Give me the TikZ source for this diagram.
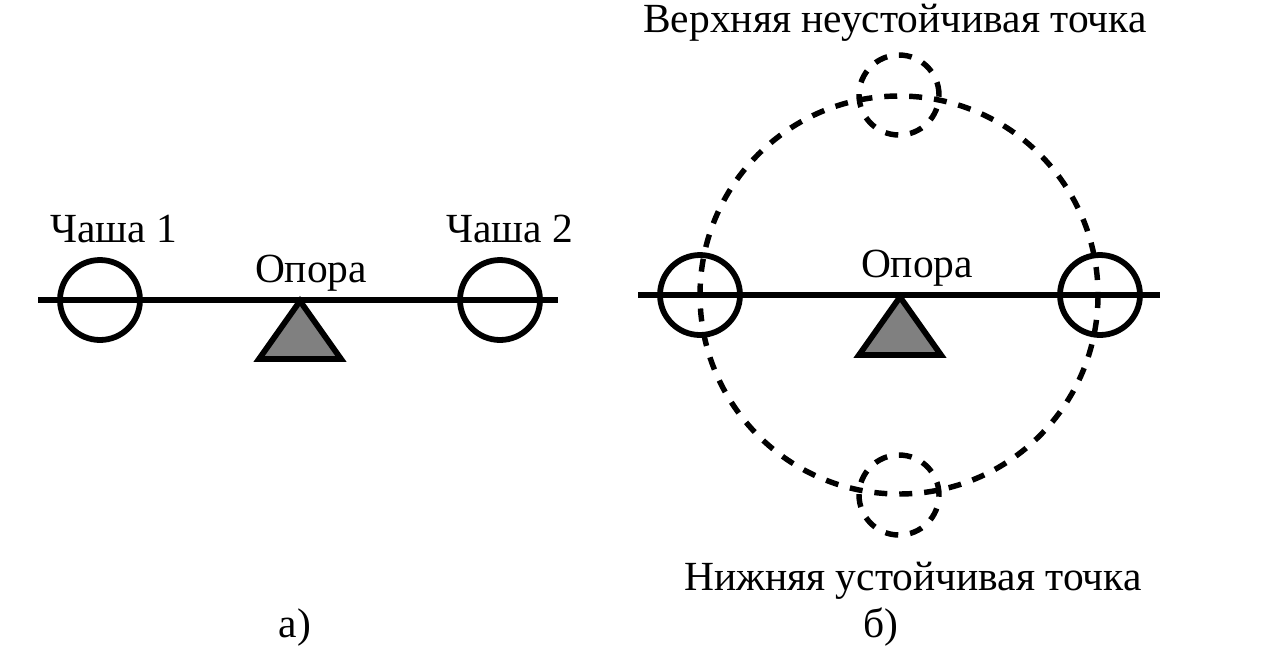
\documentclass[tikz,border=0pt]{standalone}
\usepackage{fontspec}
\setmainfont{Liberation Serif}
\usepackage{tikz}
\usetikzlibrary{calc}
\tikzset{%
  mybeam/.style={line width=3.3pt},
  mypan/.style={circle, draw=black, line width=3.3pt, minimum size=1.6cm, inner sep=0pt},
  myghost/.style={circle, draw=black, line width=3.1pt, dash pattern=on 7.4pt off 6.8pt, minimum size=1.6cm, inner sep=0pt},
  mypath/.style={line width=3.1pt, dash pattern=on 7.4pt off 6.8pt},
  myprop/.style={draw=black, fill=gray, line width=3.3pt, line join=miter},
  mytext/.style={font=\fontsize{23.6}{28}\selectfont, anchor=base, inner sep=0pt}
}

\begin{document}
\begin{tikzpicture}[x=0.02cm, y=-0.02cm]
  \useasboundingbox (0,0) rectangle (1264,650);
  % a)
  \coordinate (la) at (38,300);
  \coordinate (ra) at (558,300);
  \coordinate (pa) at (300,301);
  \node[mypan] (p1) at (100,300) {};
  \node[mypan] (p2) at (500,300) {};
  \draw [myprop] (pa) -- ++(-41,58) -- ++(82,0) -- cycle;
  \draw [mybeam] (la) -- (ra);
  \node[mytext] (t1) at (114,242) {Чаша 1};
  \node[mytext] (t2) at (510,242) {Чаша 2};
  \node[mytext] (o1) at (311,282) {Опора};
  \node[mytext] (ca) at (295,637) {а)};
  % b)
  \coordinate (lb) at (638,295);
  \coordinate (rb) at (1160,295);
  \coordinate (pb) at (900,297);
  \coordinate (cb) at (899,295);
  \node[mypan] (p3) at (700,295) {};
  \node[mypan] (p4) at (1100,295) {};
  \node[myghost] (g1) at (899,95) {};
  \node[myghost] (g2) at (899,495) {};
  \draw [mypath] (cb) circle[radius=199];
  \draw [myprop] (pb) -- ++(-41,58) -- ++(82,0) -- cycle;
  \draw [mybeam] (lb) -- (rb);
  \node[mytext] (o2) at (917,277) {Опора};
  \node[mytext] (tu) at (895,32) {Верхняя неустойчивая точка};
  \node[mytext] (td) at (913,590) {Нижняя устойчивая точка};
  \node[mytext] (cbb) at (881,637) {б)};
\end{tikzpicture}
\end{document}
